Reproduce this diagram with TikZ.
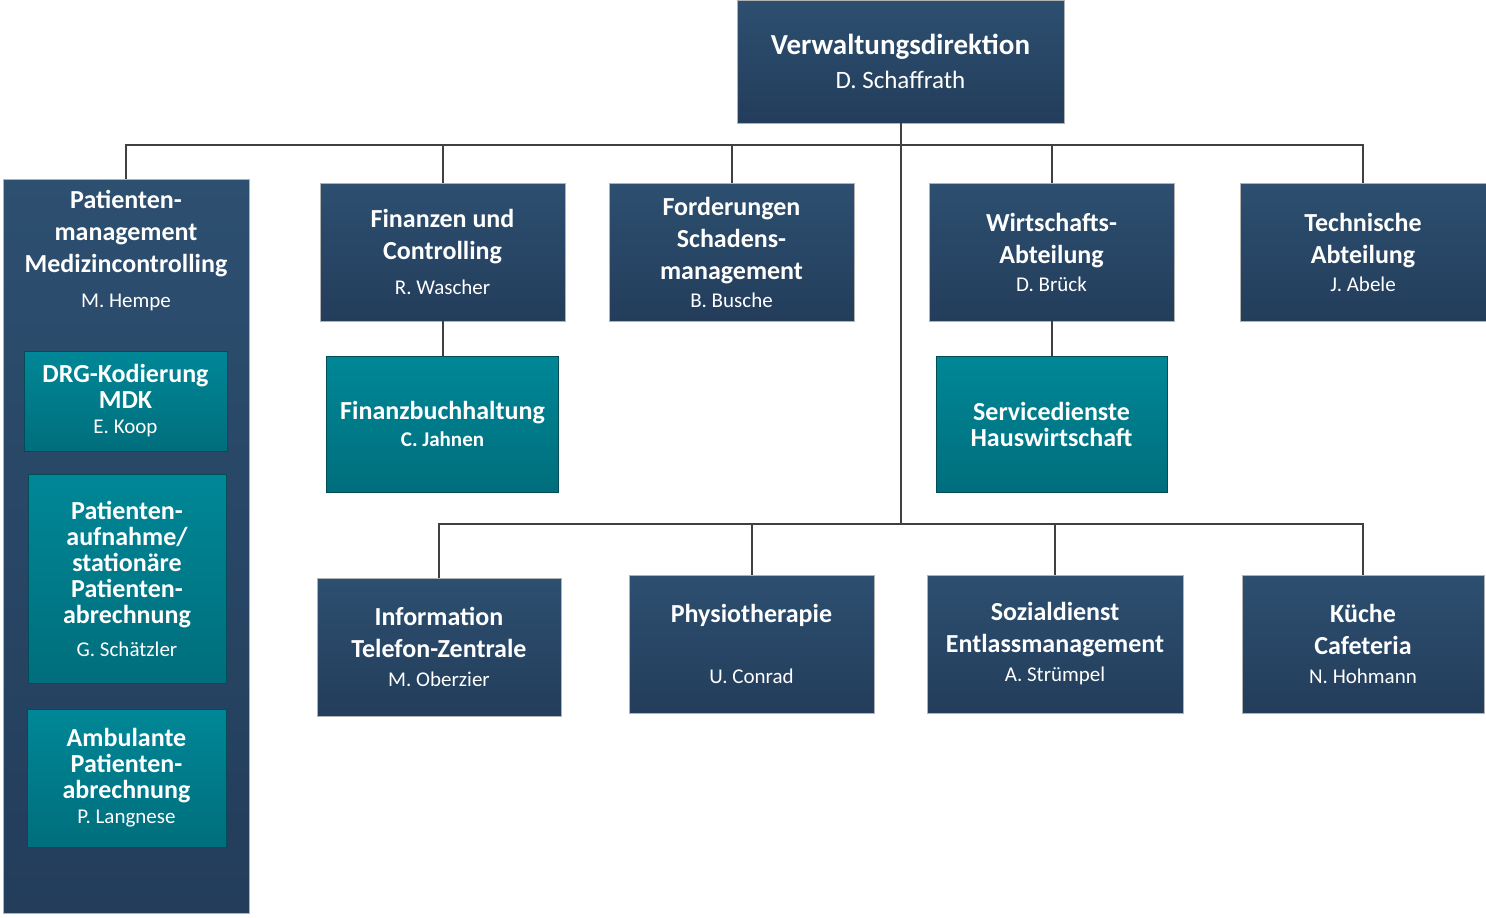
\documentclass[tikz,border=0pt]{standalone}
\usepackage{fontspec}
\setmainfont{Carlito}
\definecolor{darktop}{RGB}{45,79,112}
\definecolor{darkbot}{RGB}{35,61,91}
\definecolor{tealtop}{RGB}{0,135,151}
\definecolor{tealbot}{RGB}{0,110,124}
\definecolor{linegray}{RGB}{64,64,64}
\newcommand{\nm}{\fontsize{21}{26}\selectfont\mdseries}
\tikzset{
  dept/.style={rectangle, draw=gray!60, line width=0.8pt, top color=darktop,
    bottom color=darkbot, text=white, align=center, inner sep=0pt,
    font=\fontsize{26}{32}\selectfont\bfseries, minimum width=245, minimum height=138},
  sub/.style={rectangle, draw=tealbot!70!black, line width=0.8pt, top color=tealtop,
    bottom color=tealbot, text=white, align=center, inner sep=0pt,
    font=\fontsize{26}{26}\selectfont\bfseries},
  link/.style={draw=linegray, line width=2pt},
}
\begin{document}
\begin{tikzpicture}[x=1pt,y=-1pt]
  \useasboundingbox (0,0) rectangle (1486,918);
  \node[dept, minimum width=327, minimum height=123, font=\fontsize{29}{34}\selectfont\bfseries]
    (dir) at (900.5,61.5) {Verwaltungsdirektion\\{\fontsize{25}{30}\selectfont\mdseries D. Schaffrath}};
  \node[dept, minimum width=246, minimum height=734] (pm) at (126,546) {};
  \node[text=white, align=center, inner sep=0pt, font=\fontsize{26}{32}\selectfont\bfseries]
    (pmtitle) at (126,251) {Patienten-\\management\\Medizincontrolling\\[3pt]{\nm M. Hempe}};
  \node[sub, minimum width=203, minimum height=100] (drg) at (125.5,401)
    {DRG-Kodierung\\MDK\\[-1pt]{\nm E. Koop}};
  \node[sub, minimum width=198, minimum height=209] (aufn) at (127,578.5)
    {Patienten-\\aufnahme/\\stationäre\\Patienten-\\abrechnung\\[7pt]{\nm G. Schätzler}};
  \node[sub, minimum width=199, minimum height=138] (amb) at (126.5,778)
    {Ambulante\\Patienten-\\abrechnung\\[-1pt]{\nm P. Langnese}};
  \node[dept] (fin) at (442.5,252) {Finanzen und\\Controlling\\[3pt]{\nm R. Wascher}};
  \node[dept] (ford) at (731.5,252) {Forderungen\\Schadens-\\management\\[-4pt]{\nm B. Busche}};
  \node[dept] (wirt) at (1051.5,252) {Wirtschafts-\\Abteilung\\[-4pt]{\nm D. Brück}};
  \node[dept, minimum width=246] (tech) at (1363,252) {Technische\\Abteilung\\[-4pt]{\nm J. Abele}};
  \node[sub, minimum width=232, minimum height=136] (fibu) at (442.5,424)
    {Finanzbuchhaltung\\[1pt]{\fontsize{21}{26}\selectfont C. Jahnen}};
  \node[sub, minimum width=231, minimum height=136] (serv) at (1051.5,424)
    {Servicedienste\\Hauswirtschaft};
  \node[dept, minimum width=244] (info) at (439,647) {Information\\Telefon-Zentrale\\[-3pt]{\nm M. Oberzier}};
  \node[dept] (physio) at (751.5,644) {Physiotherapie\\[29pt]{\nm U. Conrad}};
  \node[dept, minimum width=256] (sozial) at (1055,644) {Sozialdienst\\Entlassmanagement\\[-3pt]{\nm A. Strümpel}};
  \node[dept, minimum width=242] (kueche) at (1363,644) {Küche\\Cafeteria\\[-3pt]{\nm N. Hohmann}};
  \coordinate (bus) at (900.5,145);
  \coordinate (lowbus) at (900.5,524);
  \begin{scope}[link]
    \draw (dir) -- (lowbus);
    \draw (pm.north) |- (bus) -| (tech.north);
    \draw (fin.north) -- (fin.north |- bus);
    \draw (ford.north) -- (ford.north |- bus);
    \draw (wirt.north) -- (wirt.north |- bus);
    \draw (fin) -- (fibu);
    \draw (wirt) -- (serv);
    \draw (info.north) |- (lowbus) -| (kueche.north);
    \draw (physio.north) -- (physio.north |- lowbus);
    \draw (sozial.north) -- (sozial.north |- lowbus);
  \end{scope}
\end{tikzpicture}
\end{document}
